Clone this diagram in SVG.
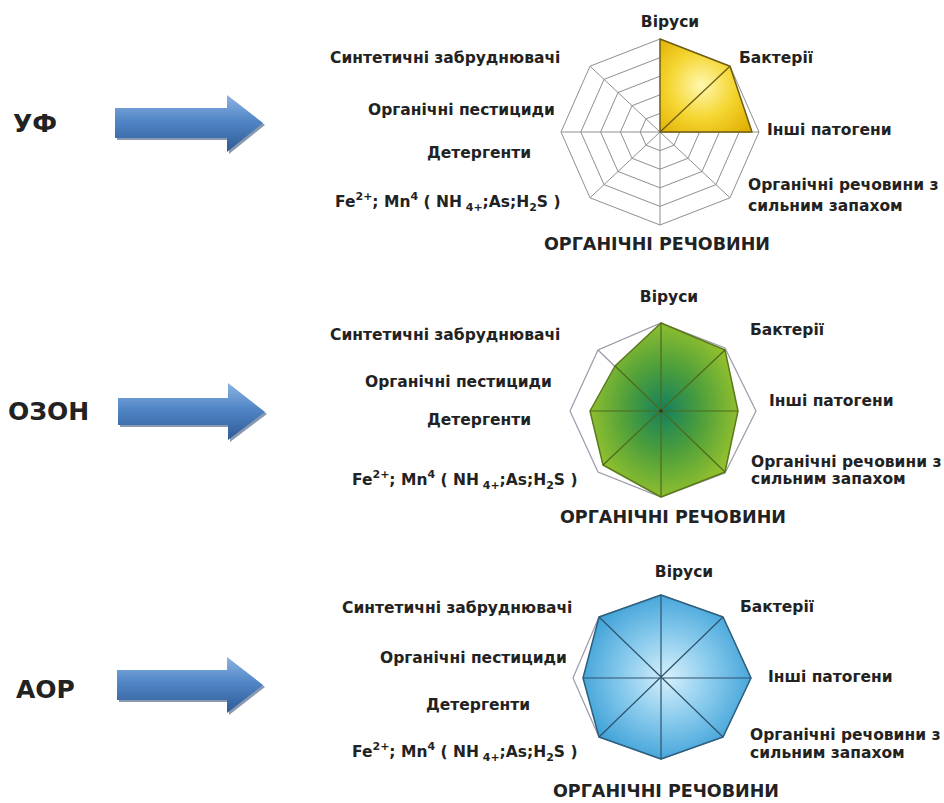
<svg xmlns="http://www.w3.org/2000/svg" width="944" height="803" viewBox="0 0 944 803">
<style>
text{font-family:"DejaVu Sans","Liberation Sans",sans-serif;font-weight:bold;fill:#222}
.l{font-size:15.5px}
.b{font-size:17.5px}
.m{font-size:25px}
.s{font-size:11px}
.web{fill:none;stroke:#8f8f8f;stroke-width:1}
.outer{fill:none;stroke:#9a9aaa;stroke-width:1.2}
</style>
<defs>
<radialGradient id="gy" cx="0.45" cy="0.5" r="0.7">
<stop offset="0" stop-color="#fff8b0"/><stop offset="0.5" stop-color="#f5d632"/><stop offset="1" stop-color="#dfae00"/>
</radialGradient>
<radialGradient id="gg" cx="0.5" cy="0.5" r="0.55">
<stop offset="0" stop-color="#13805e"/><stop offset="0.45" stop-color="#4c9e3c"/><stop offset="1" stop-color="#9cc52c"/>
</radialGradient>
<radialGradient id="gb" cx="0.5" cy="0.5" r="0.55">
<stop offset="0" stop-color="#d6f0fb"/><stop offset="0.5" stop-color="#86c9ec"/><stop offset="1" stop-color="#3a9fd6"/>
</radialGradient>
<linearGradient id="ga" x1="0" y1="0" x2="0" y2="1">
<stop offset="0" stop-color="#8db3e2"/><stop offset="0.45" stop-color="#5186c6"/><stop offset="1" stop-color="#2f5a96"/>
</linearGradient>
</defs>

<g id="connectors">
<path d="M117,110 L229,110 L229,97 L265,125 L229,154 L229,140 L117,140 Z" fill="#28466f" opacity="0.55"/>
<path d="M115,108 L227,108 L227,95 L263,123 L227,152 L227,138 L115,138 Z" fill="url(#ga)"/>
<path d="M120,400 L230,400 L230,385 L267,414 L230,442 L230,427 L120,427 Z" fill="#28466f" opacity="0.55"/>
<path d="M118,398 L228,398 L228,383 L265,412 L228,440 L228,425 L118,425 Z" fill="url(#ga)"/>
<path d="M119,672 L229,672 L229,659 L265,687 L229,715 L229,702 L119,702 Z" fill="#28466f" opacity="0.55"/>
<path d="M117,670 L227,670 L227,657 L263,685 L227,713 L227,700 L117,700 Z" fill="url(#ga)"/>
</g>

<g id="label-uv"><text class="m" x="13" y="132">УФ</text></g>
<g id="label-ozone"><text class="m" x="8" y="420">ОЗОН</text></g>
<g id="label-aop"><text class="m" x="16" y="698">АОР</text></g>

<g id="chart-uv">
<polygon class="web" points="660,39 730,66.2 759,132 730,197.8 660,225 590,197.8 561,132 590,66.2"/>
<polygon class="web" points="660,57.6 716,79.4 739.2,132 716,184.6 660,206.4 604,184.6 580.8,132 604,79.4"/>
<polygon class="web" points="660,76.2 702,92.5 719.4,132 702,171.5 660,187.8 618,171.5 600.6,132 618,92.5"/>
<polygon class="web" points="660,94.8 688,105.7 699.6,132 688,158.3 660,169.2 632,158.3 620.4,132 632,105.7"/>
<polygon class="web" points="660,113.4 674,118.8 679.8,132 674,145.2 660,150.6 646,145.2 640.2,132 646,118.8"/>
<path class="web" d="M660,132 L759,132 M660,132 L730,197.8 M660,132 L660,225 M660,132 L590,197.8 M660,132 L561,132 M660,132 L590,66.2"/>
<polygon points="660,132 660,39 730,66.2 752,132" fill="url(#gy)" stroke="#6e5e12" stroke-width="1.5" stroke-linejoin="round"/>
<path d="M660,132 L730,66.2" stroke="#6e5e12" stroke-width="1.3"/>
<text class="l" x="670" y="27" text-anchor="middle">Віруси</text>
<text class="l" x="739" y="63">Бактерії</text>
<text class="l" x="767" y="135">Інші патогени</text>
<text class="l" x="748" y="190">Органічні речовини з</text>
<text class="l" x="748" y="211">сильним запахом</text>
<text class="b" x="657" y="250" text-anchor="middle">ОРГАНІЧНІ РЕЧОВИНИ</text>
<text class="l" x="330" y="63">Синтетичні забруднювачі</text>
<text class="l" x="368" y="115">Органічні пестициди</text>
<text class="l" x="427" y="158">Детергенти</text>
<text class="l" x="335" y="207">Fe<tspan class="s" dy="-7">2+</tspan><tspan dy="7">; Mn</tspan><tspan class="s" dy="-7">4</tspan><tspan dy="7"> ( NH</tspan><tspan class="s" dy="4"> 4+</tspan><tspan dy="-4">;As;H</tspan><tspan class="s" dy="4">2</tspan><tspan dy="-4">S )</tspan></text>
</g>

<g id="chart-ozone">
<polygon class="outer" points="661,323 725,348 756,411 725,473 661,497 598,472 570,411 598,350"/>
<path class="outer" d="M661,411 L598,350"/>
<polygon points="661,323 725,350 738,411 725,472 661,497 603,465 590,411 615,366" fill="url(#gg)" stroke="#5a7a1c" stroke-width="1.5" stroke-linejoin="round"/>
<path d="M661,323 L661,497 M725,350 L603,465 M738,411 L590,411 M725,472 L615,366" stroke="#4d6a1c" stroke-width="1.2"/>
<circle cx="661" cy="411" r="1.8" fill="#333"/>
<text class="l" x="669" y="302" text-anchor="middle">Віруси</text>
<text class="l" x="750" y="335">Бактерії</text>
<text class="l" x="769" y="406">Інші патогени</text>
<text class="l" x="751" y="467">Органічні речовини з</text>
<text class="l" x="751" y="484">сильним запахом</text>
<text class="b" x="673" y="523" text-anchor="middle">ОРГАНІЧНІ РЕЧОВИНИ</text>
<text class="l" x="330" y="340">Синтетичні забруднювачі</text>
<text class="l" x="365" y="387">Органічні пестициди</text>
<text class="l" x="427" y="425">Детергенти</text>
<text class="l" x="352" y="485">Fe<tspan class="s" dy="-7">2+</tspan><tspan dy="7">; Mn</tspan><tspan class="s" dy="-7">4</tspan><tspan dy="7"> ( NH</tspan><tspan class="s" dy="4"> 4+</tspan><tspan dy="-4">;As;H</tspan><tspan class="s" dy="4">2</tspan><tspan dy="-4">S )</tspan></text>
</g>

<g id="chart-aop">
<polygon class="outer" points="661,595 723,617 751,678 723,737 661,759 599,737 573,678 599,617"/>
<polygon points="661,595 723,617 751,678 723,737 661,759 599,737 583,678 599,617" fill="url(#gb)" stroke="#2e5f7e" stroke-width="1.5" stroke-linejoin="round"/>
<path d="M661,595 L661,759 M723,617 L599,737 M751,678 L583,678 M723,737 L599,617" stroke="#2f536e" stroke-width="1.2"/>
<text class="l" x="684" y="577" text-anchor="middle">Віруси</text>
<text class="l" x="740" y="612">Бактерії</text>
<text class="l" x="768" y="682">Інші патогени</text>
<text class="l" x="750" y="740">Органічні речовини з</text>
<text class="l" x="750" y="758">сильним запахом</text>
<text class="b" x="666" y="797" text-anchor="middle">ОРГАНІЧНІ РЕЧОВИНИ</text>
<text class="l" x="342" y="613">Синтетичні забруднювачі</text>
<text class="l" x="380" y="663">Органічні пестициди</text>
<text class="l" x="426" y="710">Детергенти</text>
<text class="l" x="352" y="757">Fe<tspan class="s" dy="-7">2+</tspan><tspan dy="7">; Mn</tspan><tspan class="s" dy="-7">4</tspan><tspan dy="7"> ( NH</tspan><tspan class="s" dy="4"> 4+</tspan><tspan dy="-4">;As;H</tspan><tspan class="s" dy="4">2</tspan><tspan dy="-4">S )</tspan></text>
</g>
</svg>
